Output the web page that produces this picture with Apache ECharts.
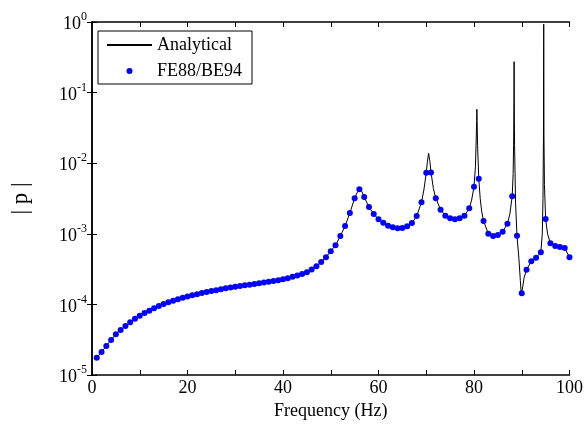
<!DOCTYPE html>
<html>
<head>
<meta charset="utf-8">
<script src="https://cdn.jsdelivr.net/npm/echarts@6/dist/echarts.min.js"></script>
<style>html,body{margin:0;padding:0;background:#fff;}#c{width:586px;height:427px;}</style>
</head>
<body>
<div id="c"></div>
<script>
// FE88/BE94 samples at 1..100 Hz
const feFreq = [1,2,3,4,5,6,7,8,9,10,11,12,13,14,15,16,17,18,19,20,21,22,23,24,25,26,27,28,29,30,31,32,33,34,35,36,37,38,39,40,41,42,43,44,45,46,47,48,49,50,51,52,53,54,55,56,57,58,59,60,61,62,63,64,65,66,67,68,69,70,71,72,73,74,75,76,77,78,79,80,81,82,83,84,85,86,87,88,89,90,91,92,93,94,95,96,97,98,99,100];
const feP = [1.76e-5,2.12e-5,2.58e-5,3.13e-5,3.78e-5,4.34e-5,4.94e-5,5.57e-5,6.27e-5,6.92e-5,
  7.55e-5,8.15e-5,8.81e-5,9.48e-5,1.014e-4,1.072e-4,1.127e-4,1.186e-4,1.239e-4,1.294e-4,
  1.346e-4,1.393e-4,1.445e-4,1.493e-4,1.542e-4,1.589e-4,1.637e-4,1.687e-4,1.730e-4,1.774e-4,
  1.824e-4,1.866e-4,1.905e-4,1.950e-4,1.995e-4,2.042e-4,2.089e-4,2.143e-4,2.203e-4,2.265e-4,
  2.350e-4,2.455e-4,2.564e-4,2.698e-4,2.858e-4,3.112e-4,3.467e-4,4.000e-4,4.667e-4,5.675e-4,
  6.871e-4,9.31e-4,1.288e-3,1.972e-3,3.184e-3,4.266e-3,3.319e-3,2.399e-3,1.905e-3,1.603e-3,
  1.435e-3,1.303e-3,1.236e-3,1.197e-3,1.208e-3,1.276e-3,1.422e-3,1.786e-3,2.793e-3,7.35e-3,
  7.40e-3,3.184e-3,2.198e-3,1.803e-3,1.656e-3,1.603e-3,1.656e-3,1.803e-3,2.296e-3,4.645e-3,
  6.04e-3,1.517e-3,1.005e-3,9.31e-4,9.62e-4,1.072e-3,1.390e-3,3.396e-3,9.40e-4,1.435e-4,
  3.105e-4,4.074e-4,4.592e-4,5.47e-4,1.622e-3,7.33e-4,6.71e-4,6.50e-4,6.30e-4,4.645e-4];

// Extra analytical readings around resonance peaks
const peakFreq = [55.5,56.1,56.5,69.5,70.25,70.5,70.75,71.5,79.5,80.3,80.45,80.55,80.6,80.65,80.75,81.3,81.6,
  87.5,88.2,88.3,88.37,88.4,88.43,88.5,88.7,89.4,89.7,89.9,90.2,90.5,
  94.3,94.45,94.55,94.6,94.65,94.75,95.4];
const peakP = [3.8e-3,4.5e-3,4.0e-3,4.17e-3,1.07e-2,1.38e-2,1.07e-2,4.37e-3,3.0e-3,8.9e-3,2.0e-2,4.0e-2,5.8e-2,4.0e-2,1.78e-2,3.16e-3,2.1e-3,
  1.9e-3,7.1e-3,2.0e-2,7.9e-2,0.274,7.9e-2,1.78e-2,2.8e-3,4.5e-4,2.2e-4,1.38e-4,1.78e-4,2.4e-4,
  1.0e-3,3.16e-3,2.5e-2,0.93,2.5e-2,5.0e-3,1.0e-3];

const yTickExp = [0,-1,-2,-3,-4,-5];
const xTicks = [0,20,40,60,80,100];

const analytical = feFreq.map((f,i)=>[f,feP[i]]).concat(peakFreq.map((f,i)=>[f,peakP[i]])).sort((a,b)=>a[0]-b[0]);
const fe = feFreq.map((f,i)=>[f,feP[i]]);

const serif = '"Liberation Serif","Times New Roman",serif';
const chart = echarts.init(document.getElementById('c'), null, {renderer:'canvas'});
const tickCommon = {show:true, inside:true, length:5, lineStyle:{color:'#000', width:1}};
chart.setOption({
  animation:false,
  backgroundColor:'#fff',
  grid:{left:92, right:14, top:22, bottom:52, containLabel:false},
  legend:{
    left:98, top:31, orient:'vertical',
    borderColor:'#000', borderWidth:1, padding:[5,10,4,8],
    itemGap:8, itemWidth:45, itemHeight:6,
    textStyle:{fontFamily:serif, fontSize:18, color:'#000'},
    data:[{name:'Analytical', itemStyle:{opacity:0}}, {name:'FE88/BE94', icon:'circle'}]
  },
  xAxis:[{
    type:'value', min:0, max:100, interval:10,
    name:'Frequency (Hz)', nameLocation:'middle', nameGap:26,
    nameTextStyle:{fontFamily:serif, fontSize:18, color:'#000'},
    axisLine:{show:true, lineStyle:{color:'#000', width:1.5}},
    axisTick:tickCommon,
    splitLine:{show:false},
    axisLabel:{fontFamily:serif, fontSize:18, color:'#000', margin:4,
      formatter:v=> xTicks.indexOf(v)>=0 ? String(v) : ''}
  },{
    type:'value', min:0, max:100, interval:10, position:'top',
    axisLine:{show:true, lineStyle:{color:'#000', width:1.5}},
    axisTick:tickCommon, axisLabel:{show:false}, splitLine:{show:false}
  }],
  yAxis:[{
    type:'log', logBase:10, min:1e-5, max:1,
    name:'| p |', nameLocation:'middle', nameRotate:90, nameGap:60,
    nameTextStyle:{fontFamily:serif, fontSize:23, color:'#000'},
    axisLine:{show:true, lineStyle:{color:'#000', width:1.5}},
    axisTick:tickCommon, splitLine:{show:false}, minorTick:{show:false},
    axisLabel:{margin:5, formatter:v=>{
        const e = Math.round(Math.log10(v));
        if (yTickExp.indexOf(e)<0) return '';
        return '{b|10}{s|'+e+'}';
      },
      rich:{
        b:{fontFamily:serif, fontSize:18, color:'#000', padding:[5,0,0,0]},
        s:{fontFamily:serif, fontSize:12, color:'#000', padding:[0,0,10,0]}
      }}
  },{
    type:'log', logBase:10, min:1e-5, max:1, position:'right',
    axisLine:{show:true, lineStyle:{color:'#000', width:1.5}},
    axisTick:tickCommon, axisLabel:{show:false}, splitLine:{show:false}
  }],
  series:[{
    name:'Analytical', type:'line', data:analytical, showSymbol:false, symbol:'none',
    lineStyle:{color:'#000', width:1}, itemStyle:{color:'#000'}, z:2
  },{
    name:'FE88/BE94', type:'scatter', data:fe, symbol:'circle', symbolSize:6,
    itemStyle:{color:'#0000ff', opacity:1}, z:3
  }]
});
</script>
</body>
</html>
